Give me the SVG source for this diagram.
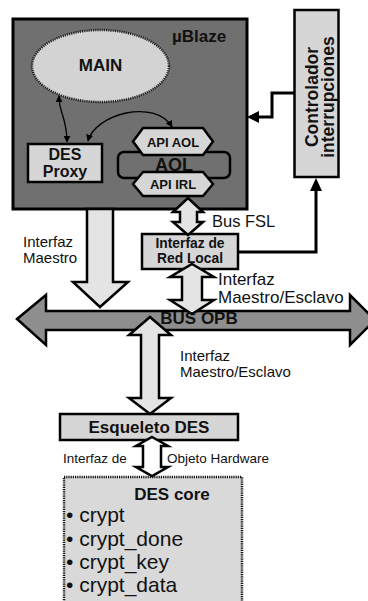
<svg xmlns="http://www.w3.org/2000/svg" width="368" height="601" viewBox="0 0 368 601">
<defs>
<marker id="ah" viewBox="0 0 10 10" refX="9" refY="5" markerWidth="7" markerHeight="7" markerUnits="userSpaceOnUse" orient="auto-start-reverse"><path d="M0,0 L10,5 L0,10 z" fill="#000"/></marker>
<marker id="ahb" viewBox="0 0 10 10" refX="9" refY="5" markerWidth="12" markerHeight="12" markerUnits="userSpaceOnUse" orient="auto"><path d="M0,0 L10,5 L0,10 z" fill="#000"/></marker>
<style>
.box{fill:#d6d6d6;stroke:#000;stroke-width:2.5}
.arr{fill:#e4e4e4;stroke:#000;stroke-width:2.5;stroke-linejoin:miter}
.b{font-family:"Liberation Sans",Arial,sans-serif;font-weight:bold;fill:#111;text-anchor:middle}
.r{font-family:"Liberation Sans",Arial,sans-serif;fill:#111}
.ln{fill:none;stroke:#000;stroke-width:3}
.thin{fill:none;stroke:#000;stroke-width:1.3}
</style>
</defs>
<rect width="368" height="601" fill="#fff"/>

<g id="ublaze">
<rect x="13" y="19" width="234" height="190" fill="#707070" stroke="#000" stroke-width="3"/>
<text class="b" x="199" y="42" font-size="17">µBlaze</text>
</g>

<g id="main">
<ellipse cx="100.5" cy="66" rx="68.5" ry="36" fill="#d3d3d3" stroke="#222" stroke-width="2.5" stroke-dasharray="1.2 1"/>
<text class="b" x="100.5" y="71" font-size="17">MAIN</text>
</g>

<g id="desproxy">
<rect class="box" x="28" y="144" width="74" height="38"/>
<text class="b" x="65" y="160" font-size="16">DES</text>
<text class="b" x="65" y="177" font-size="16">Proxy</text>
</g>

<g id="aol">
<rect x="118" y="152" width="112" height="26" rx="6" fill="#707070" stroke="#000" stroke-width="2.5"/>
<text class="b" x="174" y="171" font-size="18">AOL</text>
</g>

<g id="apiaol">
<polygon class="box" points="133,141.5 143,128 203,128 213,141.5 203,155 143,155"/>
<text class="b" x="173" y="146.5" font-size="13">API AOL</text>
</g>

<g id="apiirl">
<polygon class="box" points="133,184 143,172 203,172 213,184 203,196 143,196"/>
<text class="b" x="173" y="189" font-size="13">API IRL</text>
</g>

<g id="controlador">
<rect class="box" x="294.5" y="10" width="44" height="167"/>
<text class="b" font-size="17.5" transform="translate(318,97) rotate(-90)">Controlador</text>
<text class="b" font-size="17.5" transform="translate(333.5,97) rotate(-90)">interrupciones</text>
</g>

<g id="bus">
<polygon points="17,319 46,295 46,311 350,311 350,295 375,320 350,345 350,330 46,330 46,345" fill="#8e8e8e" stroke="#000" stroke-width="2.5"/>
</g>

<g id="redlocal">
<rect class="box" x="142" y="234" width="96" height="35"/>
<text class="b" x="190" y="248" font-size="13.8">Interfaz de</text>
<text class="b" x="190" y="263" font-size="13.8">Red Local</text>
</g>

<g id="esqueleto">
<rect class="box" x="60" y="414" width="178" height="26"/>
<text class="b" x="149" y="433" font-size="17">Esqueleto DES</text>
</g>

<g id="descore">
<rect x="64" y="477" width="178" height="130" fill="#d9d9d9" stroke="#111" stroke-width="2.5" stroke-dasharray="1.2 1"/>
<text class="b" x="172" y="500" font-size="17">DES core</text>
<text class="r" font-size="21" x="66" y="522">• crypt</text>
<text class="r" font-size="21" x="66" y="546">• crypt_done</text>
<text class="r" font-size="21" x="66" y="569">• crypt_key</text>
<text class="r" font-size="21" x="66" y="592">• crypt_data</text>
</g>

<g id="connectors">
<path class="thin" d="M59,96 C59,108 62,112 64,120 C66,128 67,134 67,142" marker-start="url(#ah)" marker-end="url(#ah)"/>
<path class="thin" d="M88,141 C95,114 155,98 172,127" marker-start="url(#ah)" marker-end="url(#ah)"/>
<path class="ln" d="M294,93 L272,93 L272,117 L258,117"/>
<polygon points="247,117 259,111 259,123" fill="#000"/>
<path class="ln" d="M238,252 L316,252 L316,190"/>
<polygon points="316,178 310,191 322,191" fill="#000"/>
<polygon class="arr" points="87,209 113,209 113,282 128,282 100,307 73,282 87,282"/>
<polygon class="arr" points="188,198 203,212 197,212 197,222 203,222 188,235 173,222 180,222 180,212 173,212"/>
<polygon class="arr" points="192,264 214,277 202,277 202,300 214,300 192,314 170,300 182,300 182,277 170,277"/>
<polygon class="arr" points="150,317 171,335 159,335 159,398 171,398 150,414 129,398 141,398 141,335 129,335"/>
<polygon points="152,437 168,446 161,446 161,467 168,467 152,476 136,467 143,467 143,446 136,446" fill="#fff" stroke="#000" stroke-width="2.5"/>
</g>

<g id="labels">
<text class="b" x="199" y="324" font-size="17">BUS OPB</text>
<text class="r" x="212" y="227" font-size="16.5">Bus FSL</text>
<text class="r" x="23" y="247" font-size="15">Interfaz</text>
<text class="r" x="23" y="263" font-size="15">Maestro</text>
<text class="r" x="218" y="285" font-size="17">Interfaz</text>
<text class="r" x="218" y="303" font-size="17">Maestro/Esclavo</text>
<text class="r" x="180" y="361" font-size="15">Interfaz</text>
<text class="r" x="180" y="377" font-size="15">Maestro/Esclavo</text>
<text class="r" x="63" y="463" font-size="13.5">Interfaz de</text>
<text class="r" x="167" y="463" font-size="13.5">Objeto Hardware</text>
</g>
</svg>
